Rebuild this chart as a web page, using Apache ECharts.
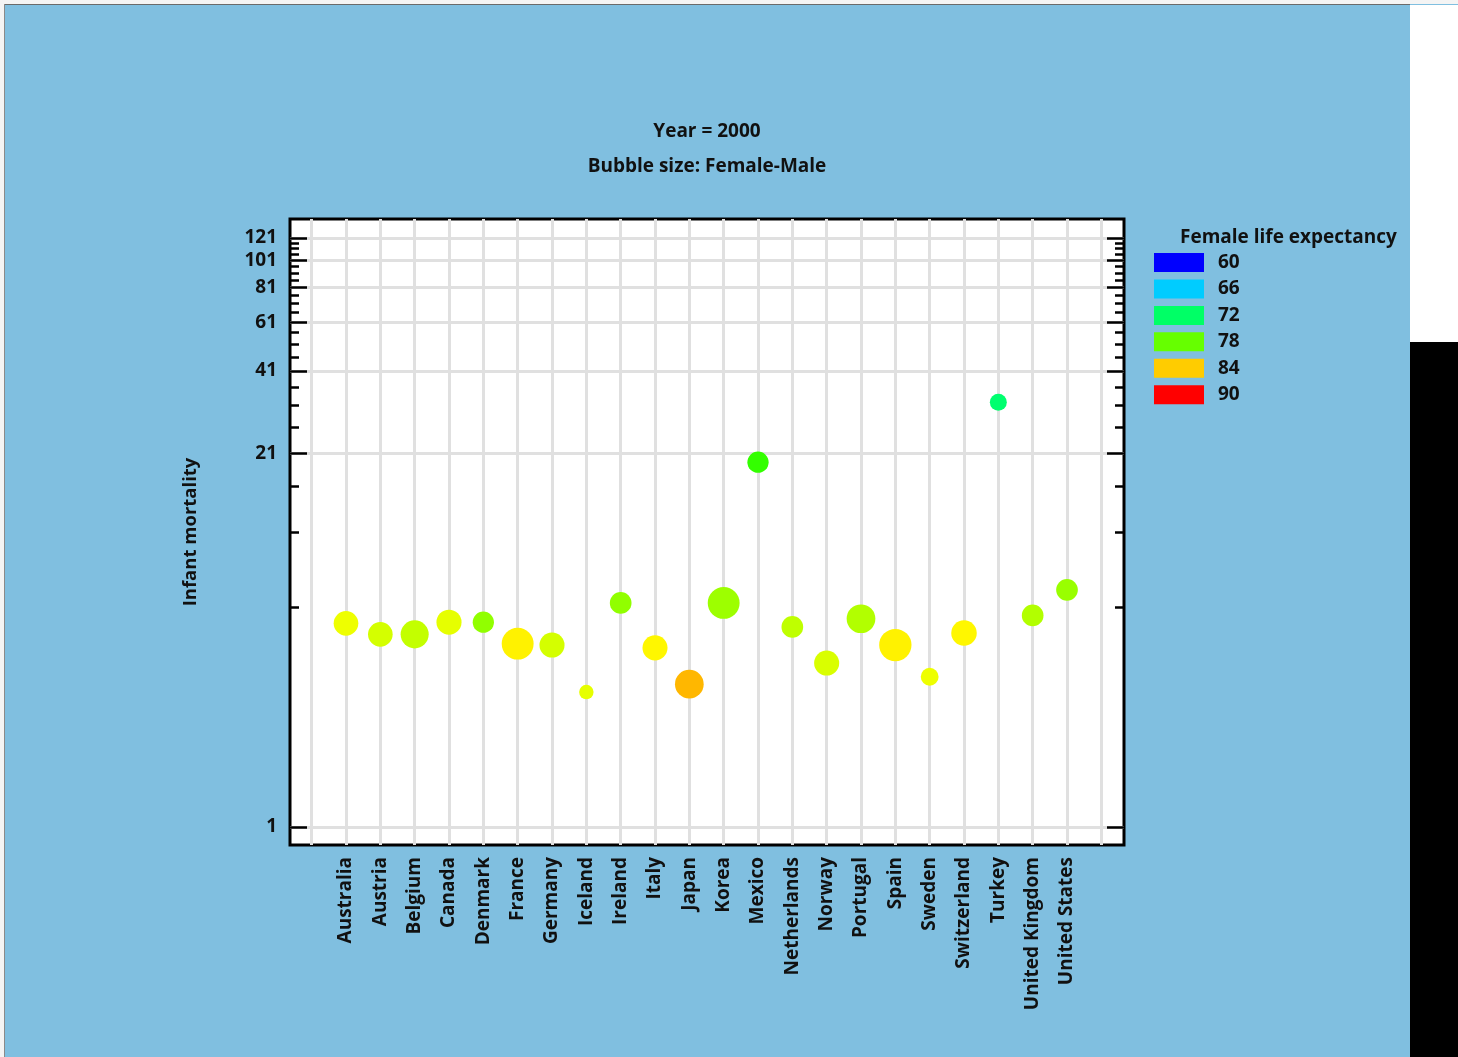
<!DOCTYPE html>
<html>
<head>
<meta charset="utf-8">
<script src="https://cdn.jsdelivr.net/npm/echarts@6/dist/echarts.min.js"></script>
<style>
  html, body { margin: 0; padding: 0; background: #ffffff; overflow: hidden; }
  #chart { position: absolute; left: 0; top: 0; width: 1458px; height: 1057px; }
  .edge { position: absolute; }
</style>
</head>
<body>
<div id="chart"></div>
<div class="edge" style="left:0;top:0;width:1458px;height:4px;background:#f4f4f4;"></div>
<div class="edge" style="left:0;top:4px;width:1410px;height:1px;background:#6a6a6a;"></div>
<div class="edge" style="left:0;top:0;width:4px;height:1057px;background:#f4f4f4;"></div>
<div class="edge" style="left:4px;top:4px;width:1px;height:1053px;background:#8a8a8a;"></div>
<div class="edge" style="left:1410px;top:5px;width:48px;height:337px;background:#ffffff;"></div>
<div class="edge" style="left:1410px;top:342px;width:48px;height:715px;background:#000000;"></div>
<script>
// ---------- data ----------
const countries = ['Australia','Austria','Belgium','Canada','Denmark','France','Germany','Iceland','Ireland','Italy','Japan','Korea','Mexico','Netherlands','Norway','Portugal','Spain','Sweden','Switzerland','Turkey','United Kingdom','United States'];
const infantMortality = [5.25, 4.8, 4.8, 5.3, 5.3, 4.45, 4.4, 3.0, 6.2, 4.3, 3.2, 6.2, 19.5, 5.1, 3.8, 5.45, 4.4, 3.4, 4.85, 31.8, 5.6, 6.9];
const femaleMinusMale = [5.8, 5.8, 6.6, 5.9, 5.0, 7.5, 5.9, 3.4, 5.1, 5.9, 6.75, 7.5, 5.0, 5.1, 5.9, 6.75, 7.6, 4.2, 6.0, 4.0, 5.1, 5.1];
const femaleLifeExp = [82.0, 81.2, 80.8, 81.7, 79.2, 82.9, 81.3, 81.8, 79.2, 82.8, 84.6, 79.6, 76.5, 80.6, 81.4, 80.2, 82.9, 82.0, 82.8, 71.8, 80.3, 79.5];
const yMajorTicks = [1, 21, 41, 61, 81, 101, 121];
const yMinorTicks = [6, 11, 16, 26, 31, 36, 46, 51, 56, 66, 71, 76, 86, 91, 96, 106, 111, 116];
const legendValues = ['60', '66', '72', '78', '84', '90'];
const legendColors = ['#0000ff', '#00ccff', '#00ff66', '#66ff00', '#ffcc00', '#ff0000'];
const xGridTicks = [-1, 0, 1, 2, 3, 4, 5, 6, 7, 8, 9, 10, 11, 12, 13, 14, 15, 16, 17, 18, 19, 20, 21, 22];
const xLabelTicks = countries.map((c, i) => i);

// ---------- chart ----------
const FONT = 'Open Sans';
const TXT = '#111111';
const chart = echarts.init(document.getElementById('chart'), null, { renderer: 'canvas' });

const bubbleData = countries.map((c, i) => [i, infantMortality[i], femaleMinusMale[i], femaleLifeExp[i], c]);

const yMin = 0.8636, yMax = 141.3;
function yAxisDef(position, ticks, len, labels, split) {
  return {
    type: 'log', logBase: 10, position: position, min: yMin, max: yMax,
    axisLine: { show: false, onZero: false },
    axisTick: { show: true, inside: true, length: len, customValues: ticks, lineStyle: { color: '#000', width: 2.5 } },
    axisLabel: labels ? { show: true, customValues: ticks, margin: 13, fontFamily: FONT, fontWeight: 'bold', fontSize: 19, color: TXT, formatter: v => String(Math.round(v)) } : { show: false },
    splitLine: { show: split, lineStyle: { color: '#e0e0e0', width: 3 } },
    minorTick: { show: false }, minorSplitLine: { show: false }
  };
}

const yAxes = [
  Object.assign(yAxisDef('left', yMajorTicks, 17, true, true), {
    name: 'Infant mortality', nameLocation: 'middle', nameRotate: 90, nameGap: 90,
    nameTextStyle: { fontFamily: FONT, fontWeight: 'bold', fontSize: 18.5, color: TXT }
  }),
  yAxisDef('left', yMinorTicks, 9, false, false),
  yAxisDef('right', yMajorTicks, 17, false, false),
  yAxisDef('right', yMinorTicks, 9, false, false)
];

const legendSeries = legendValues.map((v, i) => ({
  type: 'scatter', name: v, data: [], itemStyle: { color: legendColors[i], opacity: 1 }
}));

const option = {
  backgroundColor: '#80bfe0',
  animation: false,
  title: [
    { text: 'Year = 2000', left: 707, top: 122, textAlign: 'center', padding: 0,
      textStyle: { fontFamily: FONT, fontWeight: 'bold', fontSize: 19, color: TXT } },
    { text: 'Bubble size: Female-Male', left: 707, top: 157, textAlign: 'center', padding: 0,
      textStyle: { fontFamily: FONT, fontWeight: 'bold', fontSize: 19, color: TXT } },
    { text: 'Female life expectancy', left: 1180, top: 228, padding: 0,
      textStyle: { fontFamily: FONT, fontWeight: 'bold', fontSize: 19, color: TXT } }
  ],
  grid: {
    left: 290, top: 219, width: 834, height: 626,
    show: true, backgroundColor: '#ffffff', borderColor: '#000000', borderWidth: 3,
    outerBoundsMode: 'none', containLabel: false
  },
  legend: {
    data: legendValues, orient: 'vertical', left: 1154, top: 253, padding: 0,
    icon: 'rect', itemWidth: 50, itemHeight: 19, itemGap: 7.45,
    textStyle: { fontFamily: FONT, fontWeight: 'bold', fontSize: 19, color: TXT, lineHeight: 19, padding: [0, 0, 0, 9] },
    selectedMode: false
  },
  visualMap: {
    type: 'continuous', show: false, seriesIndex: 0, dimension: 3,
    min: 60, max: 90, inRange: { colorHue: [240, 0] }
  },
  xAxis: {
    type: 'value', min: -1.631, max: 22.66,
    axisLine: { show: false, onZero: false },
    axisTick: { show: false, customValues: xGridTicks },
    axisLabel: {
      show: true, customValues: xLabelTicks, rotate: 90, margin: 12,
      fontFamily: FONT, fontWeight: 'bold', fontSize: 19, color: TXT,
      formatter: v => countries[Math.round(v)] || ''
    },
    splitLine: { show: true, lineStyle: { color: '#e0e0e0', width: 3 } }
  },
  yAxis: yAxes,
  series: [
    {
      type: 'scatter', name: 'Countries', data: bubbleData,
      encode: { x: 0, y: 1 },
      symbol: 'circle',
      symbolSize: d => d[2] * 4.25,
      itemStyle: { color: '#ff0000', opacity: 1 },
      z: 5
    }
  ].concat(legendSeries)
};
chart.setOption(option);
</script>
</body>
</html>
